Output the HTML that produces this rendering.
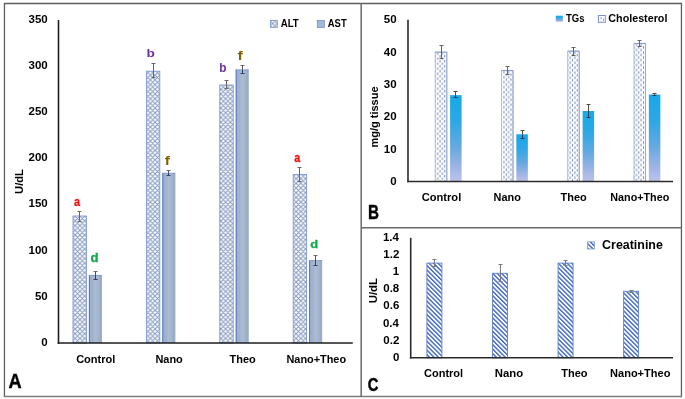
<!DOCTYPE html>
<html><head><meta charset="utf-8"><style>
html,body{margin:0;padding:0;background:#fff;}
svg{display:block;will-change:transform;}
text{font-family:"Liberation Sans",sans-serif;font-weight:bold;}
</style></head><body>
<svg width="685" height="399" viewBox="0 0 685 399">
<rect width="685" height="399" fill="#fff"/>
<defs>
<pattern id="pALT" patternUnits="userSpaceOnUse" width="4.7" height="4.7" x="0" y="0">
 <rect width="4.7" height="4.7" fill="#fff"/>
 <path d="M-1,-1 L5.7,5.7 M5.7,-1 L-1,5.7 M-1,3.7 L1,5.7 M3.7,-1 L5.7,1 M3.7,5.7 L5.7,3.7 M-1,1 L1,-1" stroke="#8799c2" stroke-width="1.0" fill="none"/>
</pattern>
<pattern id="pCHOL" patternUnits="userSpaceOnUse" width="4.6" height="4.5" x="0" y="0">
 <rect width="4.6" height="4.5" fill="#fff"/>
 <rect x="0.5" y="0.2" width="1.1" height="2.3" fill="#6f88ba"/>
 <rect x="2.8" y="2.45" width="1.1" height="2.3" fill="#6f88ba"/>
</pattern>
<pattern id="pCRE" patternUnits="userSpaceOnUse" width="3.15" height="3.15" patternTransform="rotate(-45)">
 <rect width="3.15" height="3.15" fill="#fff"/>
 <rect x="0" y="0" width="1.4" height="3.15" fill="#3f66c2"/>
</pattern>
<linearGradient id="gTG" x1="0" y1="0" x2="0" y2="1">
 <stop offset="0" stop-color="#16a8e8"/>
 <stop offset="0.3" stop-color="#2ea7e5"/>
 <stop offset="0.6" stop-color="#66a9e0"/>
 <stop offset="0.85" stop-color="#a2b5e5"/>
 <stop offset="1" stop-color="#bcc4ea"/>
</linearGradient>
<linearGradient id="gAST" x1="0" y1="0" x2="1" y2="0">
 <stop offset="0" stop-color="#a4b6d4"/>
 <stop offset="0.12" stop-color="#a0b0cb"/>
 <stop offset="0.3" stop-color="#a0b3cd"/>
 <stop offset="0.48" stop-color="#abbdd4"/>
 <stop offset="0.72" stop-color="#a4b6ce"/>
 <stop offset="0.86" stop-color="#9aabc6"/>
 <stop offset="1" stop-color="#a0afca"/>
</linearGradient>
</defs>
<path d="M4.45,396.6 V3.5 H681.45 V396.6" fill="none" stroke="#5e5e5e" stroke-width="1.3"/>
<line x1="3.8" y1="396.6" x2="682.1" y2="396.6" stroke="#7c7c7c" stroke-width="1.5"/>
<line x1="361.2" y1="3" x2="361.2" y2="397" stroke="#6a6a6a" stroke-width="1.5"/>
<line x1="361" y1="227.7" x2="681.5" y2="227.7" stroke="#6a6a6a" stroke-width="1.5"/>
<rect x="73.00" y="216.01" width="13.4" height="126.99" fill="url(#pALT)" stroke="#7e98cf" stroke-width="0.9"/>
<rect x="88.90" y="274.99" width="13.1" height="68.01" fill="url(#gAST)"/>
<line x1="89.40" y1="274.99" x2="89.40" y2="343.0" stroke="#4f76c6" stroke-width="1"/>
<line x1="88.90" y1="275.39" x2="102.00" y2="275.39" stroke="#7f9acb" stroke-width="0.8"/>
<line x1="79.5" y1="211.5" x2="79.5" y2="221.5" stroke="#666666" stroke-width="1.0"/>
<line x1="77.5" y1="211.5" x2="81.5" y2="211.5" stroke="#666666" stroke-width="1.0"/>
<line x1="77.5" y1="221.5" x2="81.5" y2="221.5" stroke="#666666" stroke-width="1.0"/>
<line x1="95.5" y1="271.5" x2="95.5" y2="274.99" stroke="#505050" stroke-width="1.0"/>
<line x1="95.5" y1="274.99" x2="95.5" y2="279.5" stroke="#2e4270" stroke-width="1.0"/>
<line x1="93.5" y1="271.5" x2="97.5" y2="271.5" stroke="#6a6a6a" stroke-width="1.0"/>
<line x1="93.5" y1="279.5" x2="97.5" y2="279.5" stroke="#2e4270" stroke-width="1.0"/>
<rect x="146.40" y="71.22" width="13.4" height="271.78" fill="url(#pALT)" stroke="#7e98cf" stroke-width="0.9"/>
<rect x="162.30" y="172.92" width="13.1" height="170.08" fill="url(#gAST)"/>
<line x1="162.80" y1="172.92" x2="162.80" y2="343.0" stroke="#4f76c6" stroke-width="1"/>
<line x1="162.30" y1="173.32" x2="175.40" y2="173.32" stroke="#7f9acb" stroke-width="0.8"/>
<line x1="153.5" y1="63.5" x2="153.5" y2="77.5" stroke="#666666" stroke-width="1.0"/>
<line x1="151.5" y1="63.5" x2="155.5" y2="63.5" stroke="#666666" stroke-width="1.0"/>
<line x1="151.5" y1="77.5" x2="155.5" y2="77.5" stroke="#666666" stroke-width="1.0"/>
<line x1="168.5" y1="170.5" x2="168.5" y2="172.92" stroke="#505050" stroke-width="1.0"/>
<line x1="168.5" y1="172.92" x2="168.5" y2="175.5" stroke="#2e4270" stroke-width="1.0"/>
<line x1="166.5" y1="170.5" x2="170.5" y2="170.5" stroke="#6a6a6a" stroke-width="1.0"/>
<line x1="166.5" y1="175.5" x2="170.5" y2="175.5" stroke="#2e4270" stroke-width="1.0"/>
<rect x="219.80" y="84.97" width="13.4" height="258.03" fill="url(#pALT)" stroke="#7e98cf" stroke-width="0.9"/>
<rect x="235.70" y="69.56" width="13.1" height="273.44" fill="url(#gAST)"/>
<line x1="236.20" y1="69.56" x2="236.20" y2="343.0" stroke="#4f76c6" stroke-width="1"/>
<line x1="235.70" y1="69.96" x2="248.80" y2="69.96" stroke="#7f9acb" stroke-width="0.8"/>
<line x1="226.5" y1="80.5" x2="226.5" y2="88.5" stroke="#666666" stroke-width="1.0"/>
<line x1="224.5" y1="80.5" x2="228.5" y2="80.5" stroke="#666666" stroke-width="1.0"/>
<line x1="224.5" y1="88.5" x2="228.5" y2="88.5" stroke="#666666" stroke-width="1.0"/>
<line x1="242.5" y1="65.5" x2="242.5" y2="69.56" stroke="#505050" stroke-width="1.0"/>
<line x1="242.5" y1="69.56" x2="242.5" y2="73.5" stroke="#2e4270" stroke-width="1.0"/>
<line x1="240.5" y1="65.5" x2="244.5" y2="65.5" stroke="#6a6a6a" stroke-width="1.0"/>
<line x1="240.5" y1="73.5" x2="244.5" y2="73.5" stroke="#2e4270" stroke-width="1.0"/>
<rect x="293.20" y="174.49" width="13.4" height="168.51" fill="url(#pALT)" stroke="#7e98cf" stroke-width="0.9"/>
<rect x="309.10" y="260.13" width="13.1" height="82.87" fill="url(#gAST)"/>
<line x1="309.60" y1="260.13" x2="309.60" y2="343.0" stroke="#4f76c6" stroke-width="1"/>
<line x1="309.10" y1="260.53" x2="322.20" y2="260.53" stroke="#7f9acb" stroke-width="0.8"/>
<line x1="299.5" y1="167.5" x2="299.5" y2="181.5" stroke="#666666" stroke-width="1.0"/>
<line x1="297.5" y1="167.5" x2="301.5" y2="167.5" stroke="#666666" stroke-width="1.0"/>
<line x1="297.5" y1="181.5" x2="301.5" y2="181.5" stroke="#666666" stroke-width="1.0"/>
<line x1="315.5" y1="255.5" x2="315.5" y2="260.13" stroke="#505050" stroke-width="1.0"/>
<line x1="315.5" y1="260.13" x2="315.5" y2="265.5" stroke="#2e4270" stroke-width="1.0"/>
<line x1="313.5" y1="255.5" x2="317.5" y2="255.5" stroke="#6a6a6a" stroke-width="1.0"/>
<line x1="313.5" y1="265.5" x2="317.5" y2="265.5" stroke="#2e4270" stroke-width="1.0"/>
<line x1="58.5" y1="20.0" x2="58.5" y2="343.7" stroke="#1e1e1e" stroke-width="1.6"/>
<line x1="57.7" y1="343.0" x2="352.8" y2="343.0" stroke="#1e1e1e" stroke-width="1.6"/>
<text transform="translate(41.35,345.81) scale(1.130,1)" font-size="10.20" fill="#000" >0</text>
<text transform="translate(34.94,299.67) scale(1.130,1)" font-size="10.20" fill="#000" >50</text>
<text transform="translate(28.54,253.52) scale(1.130,1)" font-size="10.20" fill="#000" >100</text>
<text transform="translate(28.54,207.38) scale(1.130,1)" font-size="10.20" fill="#000" >150</text>
<text transform="translate(28.54,161.24) scale(1.130,1)" font-size="10.20" fill="#000" >200</text>
<text transform="translate(28.54,115.09) scale(1.130,1)" font-size="10.20" fill="#000" >250</text>
<text transform="translate(28.54,68.94) scale(1.130,1)" font-size="10.20" fill="#000" >300</text>
<text transform="translate(28.54,22.80) scale(1.130,1)" font-size="10.20" fill="#000" >350</text>
<text transform="translate(22.70,193.97) rotate(-90) scale(1.011,1)" font-size="11.10" fill="#000">U/dL</text>
<text transform="translate(76.14,362.69) scale(1.013,1)" font-size="10.90" fill="#000" >Control</text>
<text transform="translate(155.38,362.69) scale(1.007,1)" font-size="10.90" fill="#000" >Nano</text>
<text transform="translate(229.57,362.69) scale(1.008,1)" font-size="10.90" fill="#000" >Theo</text>
<text transform="translate(286.48,362.69)" font-size="10.90" fill="#000" >Nano+Theo</text>
<rect x="270.5" y="20.5" width="6.8" height="6.8" fill="url(#pALT)" stroke="#7e98cf" stroke-width="0.9"/>
<text transform="translate(280.65,27.10) scale(0.928,1)" font-size="10.47" fill="#000" >ALT</text>
<rect x="317.3" y="20.5" width="7" height="7" fill="#a4b8da" stroke="#6f8fcb" stroke-width="0.8"/>
<text transform="translate(327.75,27.00) scale(0.931,1)" font-size="10.17" fill="#000" >AST</text>
<text transform="translate(74.07,206.47) scale(0.853,1)" font-size="12.77" fill="#ee1111" stroke="#ee1111" stroke-width="0.3">a</text>
<text transform="translate(90.45,262.38) scale(1.084,1)" font-size="12.13" fill="#10a850" stroke="#10a850" stroke-width="0.3">d</text>
<text transform="translate(146.40,57.48) scale(1.182,1)" font-size="11.58" fill="#7030a0" >b</text>
<text transform="translate(164.72,164.60) scale(1.169,1)" font-size="13.26" fill="#806000" >f</text>
<text transform="translate(219.21,72.08) scale(0.982,1)" font-size="12.13" fill="#7030a0" >b</text>
<text transform="translate(237.52,60.00) scale(1.287,1)" font-size="12.29" fill="#806000" >f</text>
<text transform="translate(294.28,161.77) scale(0.827,1)" font-size="12.96" fill="#ee1111" stroke="#ee1111" stroke-width="0.3">a</text>
<text transform="translate(310.36,247.58) scale(1.092,1)" font-size="11.85" fill="#10a850" stroke="#10a850" stroke-width="0.3">d</text>
<text transform="translate(8.53,387.60) scale(0.914,1)" font-size="19.91" fill="#000" stroke="#000" stroke-width="0.4">A</text>
<pattern id="pCH0" patternUnits="userSpaceOnUse" width="4.7" height="5" x="436.75" y="52.14"><rect width="4.7" height="5" fill="#fff"/><rect x="0.4" y="0.4" width="1.05" height="2.4" fill="#7184b2"/><rect x="2.75" y="2.9" width="1.05" height="2.4" fill="#7184b2"/><rect x="2.75" y="-2.1" width="1.05" height="2.4" fill="#7184b2"/></pattern>
<rect x="435.20" y="52.14" width="11.6" height="129.36" fill="url(#pCH0)" stroke="#adbad6" stroke-width="0.9"/>
<line x1="446.80" y1="52.14" x2="446.80" y2="181.5" stroke="#95a6cc" stroke-width="0.9"/>
<line x1="435.20" y1="52.14" x2="446.80" y2="52.14" stroke="#8499c8" stroke-width="0.9"/>
<rect x="450.10" y="95.15" width="11.5" height="86.35" fill="url(#gTG)"/>
<line x1="441.5" y1="45.5" x2="441.5" y2="58.5" stroke="#646464" stroke-width="1.0"/>
<line x1="439.5" y1="45.5" x2="443.5" y2="45.5" stroke="#646464" stroke-width="1.0"/>
<line x1="439.5" y1="58.5" x2="443.5" y2="58.5" stroke="#646464" stroke-width="1.0"/>
<line x1="455.5" y1="91.5" x2="455.5" y2="95.15" stroke="#4a4a4a" stroke-width="1.0"/>
<line x1="455.5" y1="95.15" x2="455.5" y2="97.5" stroke="#303a50" stroke-width="1.0"/>
<line x1="453.5" y1="91.5" x2="457.5" y2="91.5" stroke="#4a4a4a" stroke-width="1.0"/>
<line x1="453.5" y1="97.5" x2="457.5" y2="97.5" stroke="#303a50" stroke-width="1.0"/>
<pattern id="pCH1" patternUnits="userSpaceOnUse" width="4.7" height="5" x="503.00" y="70.57"><rect width="4.7" height="5" fill="#fff"/><rect x="0.4" y="0.4" width="1.05" height="2.4" fill="#7184b2"/><rect x="2.75" y="2.9" width="1.05" height="2.4" fill="#7184b2"/><rect x="2.75" y="-2.1" width="1.05" height="2.4" fill="#7184b2"/></pattern>
<rect x="501.45" y="70.57" width="11.6" height="110.93" fill="url(#pCH1)" stroke="#adbad6" stroke-width="0.9"/>
<line x1="513.05" y1="70.57" x2="513.05" y2="181.5" stroke="#95a6cc" stroke-width="0.9"/>
<line x1="501.45" y1="70.57" x2="513.05" y2="70.57" stroke="#8499c8" stroke-width="0.9"/>
<rect x="516.35" y="134.28" width="11.5" height="47.22" fill="url(#gTG)"/>
<line x1="507.5" y1="66.5" x2="507.5" y2="74.5" stroke="#646464" stroke-width="1.0"/>
<line x1="505.5" y1="66.5" x2="509.5" y2="66.5" stroke="#646464" stroke-width="1.0"/>
<line x1="505.5" y1="74.5" x2="509.5" y2="74.5" stroke="#646464" stroke-width="1.0"/>
<line x1="522.5" y1="130.5" x2="522.5" y2="134.28" stroke="#4a4a4a" stroke-width="1.0"/>
<line x1="522.5" y1="134.28" x2="522.5" y2="138.5" stroke="#303a50" stroke-width="1.0"/>
<line x1="520.5" y1="130.5" x2="524.5" y2="130.5" stroke="#4a4a4a" stroke-width="1.0"/>
<line x1="520.5" y1="138.5" x2="524.5" y2="138.5" stroke="#303a50" stroke-width="1.0"/>
<pattern id="pCH2" patternUnits="userSpaceOnUse" width="4.7" height="5" x="569.25" y="51.17"><rect width="4.7" height="5" fill="#fff"/><rect x="0.4" y="0.4" width="1.05" height="2.4" fill="#7184b2"/><rect x="2.75" y="2.9" width="1.05" height="2.4" fill="#7184b2"/><rect x="2.75" y="-2.1" width="1.05" height="2.4" fill="#7184b2"/></pattern>
<rect x="567.70" y="51.17" width="11.6" height="130.33" fill="url(#pCH2)" stroke="#adbad6" stroke-width="0.9"/>
<line x1="579.30" y1="51.17" x2="579.30" y2="181.5" stroke="#95a6cc" stroke-width="0.9"/>
<line x1="567.70" y1="51.17" x2="579.30" y2="51.17" stroke="#8499c8" stroke-width="0.9"/>
<rect x="582.60" y="111.00" width="11.5" height="70.50" fill="url(#gTG)"/>
<line x1="573.5" y1="47.5" x2="573.5" y2="55.5" stroke="#646464" stroke-width="1.0"/>
<line x1="571.5" y1="47.5" x2="575.5" y2="47.5" stroke="#646464" stroke-width="1.0"/>
<line x1="571.5" y1="55.5" x2="575.5" y2="55.5" stroke="#646464" stroke-width="1.0"/>
<line x1="588.5" y1="104.5" x2="588.5" y2="111.00" stroke="#4a4a4a" stroke-width="1.0"/>
<line x1="588.5" y1="111.00" x2="588.5" y2="117.5" stroke="#303a50" stroke-width="1.0"/>
<line x1="586.5" y1="104.5" x2="590.5" y2="104.5" stroke="#4a4a4a" stroke-width="1.0"/>
<line x1="586.5" y1="117.5" x2="590.5" y2="117.5" stroke="#303a50" stroke-width="1.0"/>
<pattern id="pCH3" patternUnits="userSpaceOnUse" width="4.7" height="5" x="635.50" y="43.41"><rect width="4.7" height="5" fill="#fff"/><rect x="0.4" y="0.4" width="1.05" height="2.4" fill="#7184b2"/><rect x="2.75" y="2.9" width="1.05" height="2.4" fill="#7184b2"/><rect x="2.75" y="-2.1" width="1.05" height="2.4" fill="#7184b2"/></pattern>
<rect x="633.95" y="43.41" width="11.6" height="138.09" fill="url(#pCH3)" stroke="#adbad6" stroke-width="0.9"/>
<line x1="645.55" y1="43.41" x2="645.55" y2="181.5" stroke="#95a6cc" stroke-width="0.9"/>
<line x1="633.95" y1="43.41" x2="645.55" y2="43.41" stroke="#8499c8" stroke-width="0.9"/>
<rect x="648.85" y="94.51" width="11.5" height="86.99" fill="url(#gTG)"/>
<line x1="639.5" y1="40.5" x2="639.5" y2="46.5" stroke="#646464" stroke-width="1.0"/>
<line x1="637.5" y1="40.5" x2="641.5" y2="40.5" stroke="#646464" stroke-width="1.0"/>
<line x1="637.5" y1="46.5" x2="641.5" y2="46.5" stroke="#646464" stroke-width="1.0"/>
<line x1="654.5" y1="93.5" x2="654.5" y2="94.51" stroke="#4a4a4a" stroke-width="1.0"/>
<line x1="654.5" y1="94.51" x2="654.5" y2="95.5" stroke="#303a50" stroke-width="1.0"/>
<line x1="652.5" y1="93.5" x2="656.5" y2="93.5" stroke="#4a4a4a" stroke-width="1.0"/>
<line x1="652.5" y1="95.5" x2="656.5" y2="95.5" stroke="#303a50" stroke-width="1.0"/>
<line x1="408.0" y1="19.8" x2="408.0" y2="182.2" stroke="#2a2a2a" stroke-width="1.6"/>
<line x1="407.2" y1="181.5" x2="673.0" y2="181.5" stroke="#2a2a2a" stroke-width="1.6"/>
<text transform="translate(390.15,185.01) scale(1.130,1)" font-size="10.20" fill="#000" >0</text>
<text transform="translate(383.74,152.67) scale(1.130,1)" font-size="10.20" fill="#000" >10</text>
<text transform="translate(383.74,120.33) scale(1.130,1)" font-size="10.20" fill="#000" >20</text>
<text transform="translate(383.74,87.98) scale(1.130,1)" font-size="10.20" fill="#000" >30</text>
<text transform="translate(383.74,55.65) scale(1.130,1)" font-size="10.20" fill="#000" >40</text>
<text transform="translate(383.74,23.31) scale(1.130,1)" font-size="10.20" fill="#000" >50</text>
<text transform="translate(378.10,147.42) rotate(-90) scale(0.979,1)" font-size="11.20" fill="#000">mg/g tissue</text>
<text transform="translate(421.73,200.99) scale(1.021,1)" font-size="10.90" fill="#000" >Control</text>
<text transform="translate(493.58,200.99)" font-size="10.90" fill="#000" >Nano</text>
<text transform="translate(560.47,200.99) scale(1.008,1)" font-size="10.90" fill="#000" >Theo</text>
<text transform="translate(610.29,200.99) scale(0.990,1)" font-size="10.90" fill="#000" >Nano+Theo</text>
<rect x="555.8" y="15.7" width="7.0" height="6.1" fill="url(#gTG)"/>
<text transform="translate(565.99,22.09) scale(0.891,1)" font-size="10.73" fill="#000" >TGs</text>
<rect x="598.4" y="15.5" width="6.9" height="6.8" fill="#fff" stroke="#7b90c4" stroke-width="1"/>
<rect x="600.6" y="17" width="1" height="2.2" fill="#8898c0"/><rect x="603" y="18.6" width="1" height="2.2" fill="#7a8cbc"/><rect x="600.6" y="20.6" width="1" height="1" fill="#b0bcd8"/>
<text transform="translate(608.35,22.09) scale(0.950,1)" font-size="11.31" fill="#000" >Cholesterol</text>
<text transform="translate(367.99,218.80) scale(0.777,1)" font-size="19.62" fill="#000" stroke="#000" stroke-width="0.4">B</text>
<rect x="426.90" y="263.09" width="15.0" height="94.71" fill="url(#pCRE)" stroke="#5a80c8" stroke-width="0.9"/>
<line x1="434.5" y1="259.5" x2="434.5" y2="266.5" stroke="#7a7a7a" stroke-width="1.0"/>
<line x1="432.5" y1="259.5" x2="436.5" y2="259.5" stroke="#7a7a7a" stroke-width="1.0"/>
<line x1="432.5" y1="266.5" x2="436.5" y2="266.5" stroke="#7a7a7a" stroke-width="1.0"/>
<rect x="492.47" y="273.29" width="15.0" height="84.51" fill="url(#pCRE)" stroke="#5a80c8" stroke-width="0.9"/>
<line x1="500.5" y1="264.5" x2="500.5" y2="281.5" stroke="#7a7a7a" stroke-width="1.0"/>
<line x1="498.5" y1="264.5" x2="502.5" y2="264.5" stroke="#7a7a7a" stroke-width="1.0"/>
<line x1="498.5" y1="281.5" x2="502.5" y2="281.5" stroke="#7a7a7a" stroke-width="1.0"/>
<rect x="558.05" y="263.09" width="15.0" height="94.71" fill="url(#pCRE)" stroke="#5a80c8" stroke-width="0.9"/>
<line x1="565.5" y1="260.5" x2="565.5" y2="265.5" stroke="#7a7a7a" stroke-width="1.0"/>
<line x1="563.5" y1="260.5" x2="567.5" y2="260.5" stroke="#7a7a7a" stroke-width="1.0"/>
<line x1="563.5" y1="265.5" x2="567.5" y2="265.5" stroke="#7a7a7a" stroke-width="1.0"/>
<rect x="623.62" y="291.29" width="15.0" height="66.51" fill="url(#pCRE)" stroke="#5a80c8" stroke-width="0.9"/>
<line x1="631.5" y1="290.5" x2="631.5" y2="292.5" stroke="#7a7a7a" stroke-width="1.0"/>
<line x1="629.5" y1="290.5" x2="633.5" y2="290.5" stroke="#7a7a7a" stroke-width="1.0"/>
<line x1="629.5" y1="292.5" x2="633.5" y2="292.5" stroke="#7a7a7a" stroke-width="1.0"/>
<line x1="410.7" y1="237.8" x2="410.7" y2="358.5" stroke="#2a2a2a" stroke-width="1.6"/>
<line x1="409.9" y1="357.8" x2="673.0" y2="357.8" stroke="#2a2a2a" stroke-width="1.6"/>
<text transform="translate(392.95,360.91) scale(1.130,1)" font-size="10.20" fill="#000" >0</text>
<text transform="translate(383.34,343.77) scale(1.130,1)" font-size="10.20" fill="#000" >0.2</text>
<text transform="translate(382.95,326.62) scale(1.130,1)" font-size="10.20" fill="#000" >0.4</text>
<text transform="translate(383.29,309.48) scale(1.130,1)" font-size="10.20" fill="#000" >0.6</text>
<text transform="translate(383.22,292.34) scale(1.130,1)" font-size="10.20" fill="#000" >0.8</text>
<text transform="translate(392.81,275.19) scale(1.130,1)" font-size="10.20" fill="#000" >1</text>
<text transform="translate(383.34,258.10) scale(1.130,1)" font-size="10.20" fill="#000" >1.2</text>
<text transform="translate(382.95,240.91) scale(1.130,1)" font-size="10.20" fill="#000" >1.4</text>
<text transform="translate(377.40,303.28) rotate(-90) scale(1.047,1)" font-size="10.90" fill="#000">U/dL</text>
<text transform="translate(424.04,377.19) scale(1.010,1)" font-size="10.90" fill="#000" >Control</text>
<text transform="translate(494.85,377.19) scale(1.041,1)" font-size="10.90" fill="#000" >Nano</text>
<text transform="translate(561.17,377.19) scale(1.012,1)" font-size="10.90" fill="#000" >Theo</text>
<text transform="translate(610.07,377.19) scale(1.012,1)" font-size="10.90" fill="#000" >Nano+Theo</text>
<rect x="587.6" y="241.8" width="7" height="7.2" fill="url(#pCRE)" stroke="#7f9ad0" stroke-width="0.8"/>
<text transform="translate(602.08,249.07) scale(0.993,1)" font-size="12.53" fill="#000" >Creatinine</text>
<text transform="translate(367.78,390.61) scale(0.790,1)" font-size="18.64" fill="#000" stroke="#000" stroke-width="0.5">C</text>
</svg>
</body></html>
